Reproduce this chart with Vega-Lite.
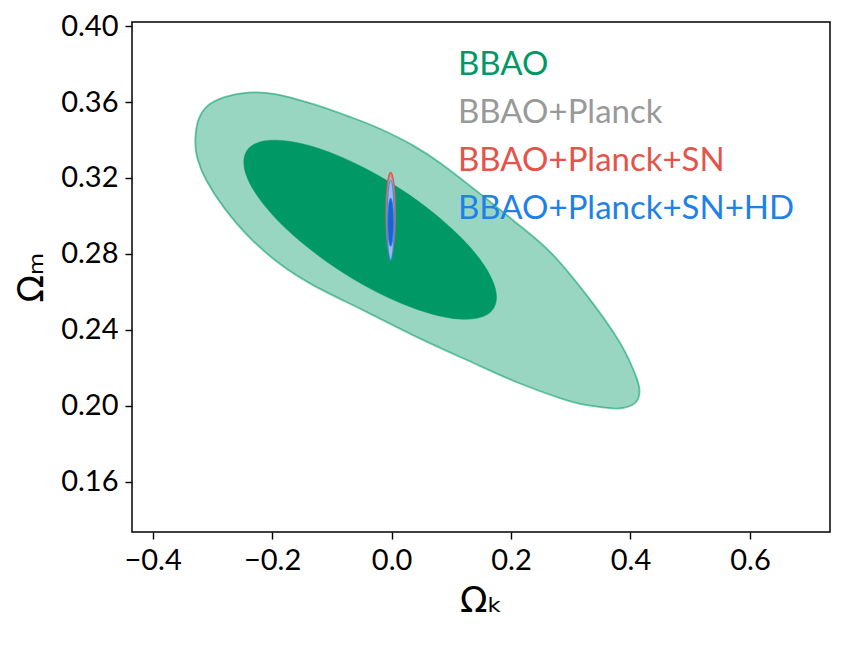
{
  "$schema": "https://vega.github.io/schema/vega-lite/v6.json",
  "width": 698,
  "height": 510,
  "autosize": "none",
  "padding": {"left": 132, "top": 22, "right": 22, "bottom": 116},
  "background": "white",
  "config": {
    "view": {"stroke": "black", "strokeWidth": 1.5},
    "axis": {
      "grid": false,
      "domain": false,
      "tickColor": "black",
      "tickWidth": 1.4,
      "tickSize": 7,
      "labelFont": "Lato",
      "labelFontWeight": 400,
      "labelFontSize": 29,
      "labelColor": "black",
      "labelPadding": 7,
      "titleFont": "DejaVu Sans",
      "titleFontSize": 36,
      "titleFontWeight": "normal",
      "titleColor": "black"
    }
  },
  "data": {
    "values": [
      {"sample": "BBAO", "level": 95, "i": 0, "ok": -0.3285, "om": 0.3399},
      {"sample": "BBAO", "level": 95, "i": 1, "ok": -0.3234, "om": 0.3505},
      {"sample": "BBAO", "level": 95, "i": 2, "ok": -0.3084, "om": 0.3579},
      {"sample": "BBAO", "level": 95, "i": 3, "ok": -0.2799, "om": 0.3626},
      {"sample": "BBAO", "level": 95, "i": 4, "ok": -0.2397, "om": 0.3650},
      {"sample": "BBAO", "level": 95, "i": 5, "ok": -0.1945, "om": 0.3642},
      {"sample": "BBAO", "level": 95, "i": 6, "ok": -0.1308, "om": 0.3589},
      {"sample": "BBAO", "level": 95, "i": 7, "ok": -0.0688, "om": 0.3521},
      {"sample": "BBAO", "level": 95, "i": 8, "ok": -0.0186, "om": 0.3458},
      {"sample": "BBAO", "level": 95, "i": 9, "ok": 0.0350, "om": 0.3373},
      {"sample": "BBAO", "level": 95, "i": 10, "ok": 0.0819, "om": 0.3278},
      {"sample": "BBAO", "level": 95, "i": 11, "ok": 0.1405, "om": 0.3136},
      {"sample": "BBAO", "level": 95, "i": 12, "ok": 0.1992, "om": 0.2988},
      {"sample": "BBAO", "level": 95, "i": 13, "ok": 0.2662, "om": 0.2808},
      {"sample": "BBAO", "level": 95, "i": 14, "ok": 0.3281, "om": 0.2576},
      {"sample": "BBAO", "level": 95, "i": 15, "ok": 0.3801, "om": 0.2344},
      {"sample": "BBAO", "level": 95, "i": 16, "ok": 0.4052, "om": 0.2186},
      {"sample": "BBAO", "level": 95, "i": 17, "ok": 0.4152, "om": 0.2080},
      {"sample": "BBAO", "level": 95, "i": 18, "ok": 0.4069, "om": 0.2012},
      {"sample": "BBAO", "level": 95, "i": 19, "ok": 0.3801, "om": 0.1985},
      {"sample": "BBAO", "level": 95, "i": 20, "ok": 0.3415, "om": 0.1996},
      {"sample": "BBAO", "level": 95, "i": 21, "ok": 0.2946, "om": 0.2027},
      {"sample": "BBAO", "level": 95, "i": 22, "ok": 0.2109, "om": 0.2122},
      {"sample": "BBAO", "level": 95, "i": 23, "ok": 0.1271, "om": 0.2239},
      {"sample": "BBAO", "level": 95, "i": 24, "ok": 0.0434, "om": 0.2360},
      {"sample": "BBAO", "level": 95, "i": 25, "ok": -0.0437, "om": 0.2497},
      {"sample": "BBAO", "level": 95, "i": 26, "ok": -0.1308, "om": 0.2634},
      {"sample": "BBAO", "level": 95, "i": 27, "ok": -0.1861, "om": 0.2745},
      {"sample": "BBAO", "level": 95, "i": 28, "ok": -0.2363, "om": 0.2882},
      {"sample": "BBAO", "level": 95, "i": 29, "ok": -0.2799, "om": 0.3041},
      {"sample": "BBAO", "level": 95, "i": 30, "ok": -0.3101, "om": 0.3188},
      {"sample": "BBAO", "level": 95, "i": 31, "ok": -0.3251, "om": 0.3304},

      {"sample": "BBAO", "level": 68, "i": 0, "ok": 0.1757, "om": 0.2571},
      {"sample": "BBAO", "level": 68, "i": 1, "ok": 0.1685, "om": 0.2503},
      {"sample": "BBAO", "level": 68, "i": 2, "ok": 0.1474, "om": 0.2464},
      {"sample": "BBAO", "level": 68, "i": 3, "ok": 0.1137, "om": 0.2456},
      {"sample": "BBAO", "level": 68, "i": 4, "ok": 0.0699, "om": 0.2481},
      {"sample": "BBAO", "level": 68, "i": 5, "ok": 0.0189, "om": 0.2536},
      {"sample": "BBAO", "level": 68, "i": 6, "ok": -0.0359, "om": 0.2617},
      {"sample": "BBAO", "level": 68, "i": 7, "ok": -0.0906, "om": 0.2720},
      {"sample": "BBAO", "level": 68, "i": 8, "ok": -0.1416, "om": 0.2837},
      {"sample": "BBAO", "level": 68, "i": 9, "ok": -0.1855, "om": 0.2960},
      {"sample": "BBAO", "level": 68, "i": 10, "ok": -0.2191, "om": 0.3081},
      {"sample": "BBAO", "level": 68, "i": 11, "ok": -0.2402, "om": 0.3191},
      {"sample": "BBAO", "level": 68, "i": 12, "ok": -0.2474, "om": 0.3283},
      {"sample": "BBAO", "level": 68, "i": 13, "ok": -0.2402, "om": 0.3352},
      {"sample": "BBAO", "level": 68, "i": 14, "ok": -0.2191, "om": 0.3391},
      {"sample": "BBAO", "level": 68, "i": 15, "ok": -0.1855, "om": 0.3398},
      {"sample": "BBAO", "level": 68, "i": 16, "ok": -0.1416, "om": 0.3374},
      {"sample": "BBAO", "level": 68, "i": 17, "ok": -0.0906, "om": 0.3319},
      {"sample": "BBAO", "level": 68, "i": 18, "ok": -0.0359, "om": 0.3237},
      {"sample": "BBAO", "level": 68, "i": 19, "ok": 0.0189, "om": 0.3134},
      {"sample": "BBAO", "level": 68, "i": 20, "ok": 0.0699, "om": 0.3017},
      {"sample": "BBAO", "level": 68, "i": 21, "ok": 0.1137, "om": 0.2894},
      {"sample": "BBAO", "level": 68, "i": 22, "ok": 0.1474, "om": 0.2774},
      {"sample": "BBAO", "level": 68, "i": 23, "ok": 0.1685, "om": 0.2663},

      {"sample": "BBAO+Planck+SN", "level": 95, "i": 0, "ok": -0.0015, "om": 0.3228},
      {"sample": "BBAO+Planck+SN", "level": 95, "i": 1, "ok": 0.0038, "om": 0.3165},
      {"sample": "BBAO+Planck+SN", "level": 95, "i": 2, "ok": 0.0060, "om": 0.3012},
      {"sample": "BBAO+Planck+SN", "level": 95, "i": 3, "ok": 0.0038, "om": 0.2859},
      {"sample": "BBAO+Planck+SN", "level": 95, "i": 4, "ok": -0.0015, "om": 0.2796},
      {"sample": "BBAO+Planck+SN", "level": 95, "i": 5, "ok": -0.0068, "om": 0.2859},
      {"sample": "BBAO+Planck+SN", "level": 95, "i": 6, "ok": -0.0090, "om": 0.3012},
      {"sample": "BBAO+Planck+SN", "level": 95, "i": 7, "ok": -0.0068, "om": 0.3165},

      {"sample": "BBAO+Planck", "level": 95, "i": 0, "ok": -0.0015, "om": 0.3209},
      {"sample": "BBAO+Planck", "level": 95, "i": 1, "ok": 0.0032, "om": 0.3147},
      {"sample": "BBAO+Planck", "level": 95, "i": 2, "ok": 0.0052, "om": 0.2998},
      {"sample": "BBAO+Planck", "level": 95, "i": 3, "ok": 0.0032, "om": 0.2849},
      {"sample": "BBAO+Planck", "level": 95, "i": 4, "ok": -0.0015, "om": 0.2787},
      {"sample": "BBAO+Planck", "level": 95, "i": 5, "ok": -0.0062, "om": 0.2849},
      {"sample": "BBAO+Planck", "level": 95, "i": 6, "ok": -0.0082, "om": 0.2998},
      {"sample": "BBAO+Planck", "level": 95, "i": 7, "ok": -0.0062, "om": 0.3147},

      {"sample": "BBAO+Planck+SN+HD", "level": 95, "i": 0, "ok": -0.0015, "om": 0.3188},
      {"sample": "BBAO+Planck+SN+HD", "level": 95, "i": 1, "ok": 0.0027, "om": 0.3126},
      {"sample": "BBAO+Planck+SN+HD", "level": 95, "i": 2, "ok": 0.0044, "om": 0.2977},
      {"sample": "BBAO+Planck+SN+HD", "level": 95, "i": 3, "ok": 0.0027, "om": 0.2828},
      {"sample": "BBAO+Planck+SN+HD", "level": 95, "i": 4, "ok": -0.0015, "om": 0.2766},
      {"sample": "BBAO+Planck+SN+HD", "level": 95, "i": 5, "ok": -0.0057, "om": 0.2828},
      {"sample": "BBAO+Planck+SN+HD", "level": 95, "i": 6, "ok": -0.0074, "om": 0.2977},
      {"sample": "BBAO+Planck+SN+HD", "level": 95, "i": 7, "ok": -0.0057, "om": 0.3126},

      {"sample": "BBAO+Planck+SN+HD", "level": 68, "i": 0, "ok": -0.0015, "om": 0.3094},
      {"sample": "BBAO+Planck+SN+HD", "level": 68, "i": 1, "ok": 0.0018, "om": 0.3057},
      {"sample": "BBAO+Planck+SN+HD", "level": 68, "i": 2, "ok": 0.0032, "om": 0.2967},
      {"sample": "BBAO+Planck+SN+HD", "level": 68, "i": 3, "ok": 0.0018, "om": 0.2877},
      {"sample": "BBAO+Planck+SN+HD", "level": 68, "i": 4, "ok": -0.0015, "om": 0.2840},
      {"sample": "BBAO+Planck+SN+HD", "level": 68, "i": 5, "ok": -0.0048, "om": 0.2877},
      {"sample": "BBAO+Planck+SN+HD", "level": 68, "i": 6, "ok": -0.0062, "om": 0.2967},
      {"sample": "BBAO+Planck+SN+HD", "level": 68, "i": 7, "ok": -0.0048, "om": 0.3057}
    ]
  },
  "encoding": {
    "x": {
      "field": "ok",
      "type": "quantitative",
      "title": "Ωₖ",
      "scale": {"domain": [-0.4345, 0.734], "nice": false, "zero": false},
      "axis": {"values": [-0.4, -0.2, 0, 0.2, 0.4, 0.6], "format": ".1f", "titlePadding": 8}
    },
    "y": {
      "field": "om",
      "type": "quantitative",
      "title": "Ωₘ",
      "scale": {"domain": [0.1334, 0.4022], "nice": false, "zero": false},
      "axis": {"values": [0.16, 0.2, 0.24, 0.28, 0.32, 0.36, 0.4], "format": ".2f", "titlePadding": 10}
    },
    "order": {"field": "i", "type": "quantitative"},
    "stroke": {
      "field": "sample",
      "type": "nominal",
      "scale": {
        "domain": ["BBAO", "BBAO+Planck", "BBAO+Planck+SN", "BBAO+Planck+SN+HD"],
        "range": ["#009966", "#999999", "#e5534b", "#1f80e8"]
      },
      "legend": null
    }
  },
  "layer": [
    {
      "transform": [{"filter": "datum.sample === 'BBAO' && datum.level === 95"}],
      "mark": {"type": "line", "interpolate": "cardinal-closed", "fill": "#99d6c2", "strokeWidth": 1.8, "strokeOpacity": 0.55},
      "encoding": {
        "stroke": {
          "field": "sample",
          "type": "nominal",
          "scale": {
            "domain": ["BBAO", "BBAO+Planck", "BBAO+Planck+SN", "BBAO+Planck+SN+HD"],
            "range": ["#009966", "#999999", "#e5534b", "#1f80e8"]
          },
          "legend": {
            "orient": "none",
            "legendX": 293,
            "legendY": 26,
            "title": null,
            "padding": 0,
            "labelFont": "Lato",
            "labelFontSize": 33,
            "labelLimit": 600,
            "labelOffset": 0,
            "labelColor": {"expr": "scale('stroke', datum.value)"},
            "symbolSize": 0,
            "symbolOpacity": 0,
            "symbolStrokeWidth": 0,
            "rowPadding": 14
          }
        }
      }
    },
    {
      "transform": [{"filter": "datum.sample === 'BBAO' && datum.level === 68"}],
      "mark": {"type": "line", "interpolate": "cardinal-closed", "fill": "#009966", "strokeWidth": 0.5}
    },
    {
      "transform": [{"filter": "datum.sample === 'BBAO+Planck+SN' && datum.level === 95"}],
      "mark": {"type": "line", "interpolate": "cardinal-closed", "fill": "#ee8a80", "strokeWidth": 1.6}
    },
    {
      "transform": [{"filter": "datum.sample === 'BBAO+Planck' && datum.level === 95"}],
      "mark": {"type": "line", "interpolate": "cardinal-closed", "fill": "#b9b3c9", "fillOpacity": 0.9, "strokeWidth": 1.2, "strokeOpacity": 0.8}
    },
    {
      "transform": [{"filter": "datum.sample === 'BBAO+Planck+SN+HD' && datum.level === 95"}],
      "mark": {"type": "line", "interpolate": "cardinal-closed", "fill": "#9ab8ee", "fillOpacity": 0.85, "strokeWidth": 1.2, "strokeOpacity": 0.7}
    },
    {
      "transform": [{"filter": "datum.sample === 'BBAO+Planck+SN+HD' && datum.level === 68"}],
      "mark": {"type": "line", "interpolate": "cardinal-closed", "fill": "#1f5fd0", "strokeWidth": 0.8}
    }
  ]
}
